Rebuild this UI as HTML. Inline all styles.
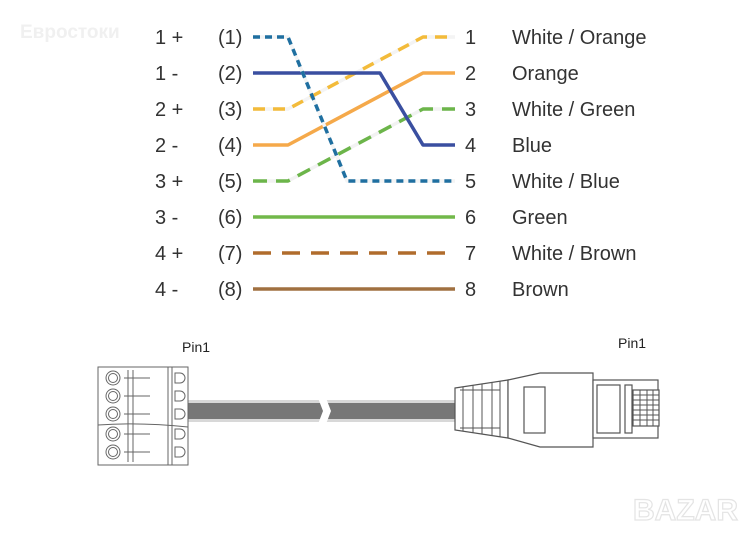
<!DOCTYPE html>
<html><head><meta charset="utf-8"><style>
html,body{margin:0;padding:0;background:#fff;}
svg{display:block}
.t{font-family:"Liberation Sans","DejaVu Sans",sans-serif;font-size:20px;fill:#333}
.p{font-family:"Liberation Sans",sans-serif;font-size:14px;fill:#222}
</style></head><body>
<svg width="743" height="533" viewBox="0 0 743 533" xmlns="http://www.w3.org/2000/svg">
<text x="20" y="38" font-family="Liberation Sans,sans-serif" font-size="19" font-weight="bold" fill="#f0f0f0">Евростоки</text>
<text x="633" y="520" font-family="Liberation Sans,sans-serif" font-size="30" font-weight="bold" fill="#fff" stroke="#e4e4e4" stroke-width="1.2">BAZAR</text>
<g class="t">
<text x="155" y="44">1 +</text><text x="155" y="80">1 -</text><text x="155" y="116">2 +</text><text x="155" y="152">2 -</text>
<text x="155" y="188">3 +</text><text x="155" y="224">3 -</text><text x="155" y="260">4 +</text><text x="155" y="296">4 -</text>
<text x="218" y="44">(1)</text><text x="218" y="80">(2)</text><text x="218" y="116">(3)</text><text x="218" y="152">(4)</text>
<text x="218" y="188">(5)</text><text x="218" y="224">(6)</text><text x="218" y="260">(7)</text><text x="218" y="296">(8)</text>
<text x="465" y="44">1</text><text x="465" y="80">2</text><text x="465" y="116">3</text><text x="465" y="152">4</text>
<text x="465" y="188">5</text><text x="465" y="224">6</text><text x="465" y="260">7</text><text x="465" y="296">8</text>
<text x="512" y="44">White / Orange</text><text x="512" y="80">Orange</text><text x="512" y="116">White / Green</text><text x="512" y="152">Blue</text>
<text x="512" y="188">White / Blue</text><text x="512" y="224">Green</text><text x="512" y="260">White / Brown</text><text x="512" y="296">Brown</text>
</g>
<g fill="none" stroke-width="3.5" stroke-linejoin="round">
<polyline points="253,145 288,145 423,73 455,73" stroke="#f5a94a"/>
<polyline points="253,109 288,109 423,37 455,37" stroke="#f4f4f4"/>
<polyline points="253,109 288,109 423,37 455,37" stroke="#f3bb3a" stroke-dasharray="12,8"/>
<polyline points="253,181 288,181 423,109 455,109" stroke="#f2f2f2"/>
<polyline points="253,181 288,181 423,109 455,109" stroke="#6cb54a" stroke-dasharray="14,9"/>
<polyline points="253,73 380,73 423,145 455,145" stroke="#3a4fa0"/>
<polyline points="253,37 288,37 347,181 455,181" stroke="#f4f4f4"/>
<polyline points="253,37 288,37 347,181 455,181" stroke="#1f6fa0" stroke-dasharray="7,5"/>
<line x1="253" y1="217" x2="455" y2="217" stroke="#72b84a"/>
<line x1="253" y1="253" x2="455" y2="253" stroke="#b06c2c" stroke-dasharray="18,11"/>
<line x1="253" y1="289" x2="455" y2="289" stroke="#a07040"/>
</g>
<text class="p" x="182" y="352">Pin1</text>
<text class="p" x="618" y="348">Pin1</text>
<rect x="188" y="400" width="268" height="22" fill="#d8d8d8"/>
<rect x="188" y="403" width="268" height="16" fill="#777"/>
<polygon points="318,398 326,398 331,411 326,424 318,424 323,411" fill="#fff"/>
<g fill="none" stroke="#666" stroke-width="1">
<rect x="98" y="367" width="90" height="98" fill="#fff"/>
<path d="M98,425 Q140,422 188,427"/>
<line x1="168" y1="367" x2="168" y2="465"/><line x1="172" y1="367" x2="172" y2="465"/>
<line x1="128" y1="370" x2="128" y2="462"/><line x1="133" y1="370" x2="133" y2="462"/>
<g>
<circle cx="113" cy="378" r="7"/><circle cx="113" cy="378" r="4.5"/>
<circle cx="113" cy="396" r="7"/><circle cx="113" cy="396" r="4.5"/>
<circle cx="113" cy="414" r="7"/><circle cx="113" cy="414" r="4.5"/>
<circle cx="113" cy="434" r="7"/><circle cx="113" cy="434" r="4.5"/>
<circle cx="113" cy="452" r="7"/><circle cx="113" cy="452" r="4.5"/>
</g>
<path d="M175,373 h5 a5,5 0 0 1 0,10 h-5 z M175,391 h5 a5,5 0 0 1 0,10 h-5 z M175,409 h5 a5,5 0 0 1 0,10 h-5 z M175,429 h5 a5,5 0 0 1 0,10 h-5 z M175,447 h5 a5,5 0 0 1 0,10 h-5 z"/>
<line x1="124" y1="378" x2="150" y2="378"/><line x1="124" y1="396" x2="150" y2="396"/><line x1="124" y1="414" x2="150" y2="414"/><line x1="124" y1="434" x2="150" y2="434"/><line x1="124" y1="452" x2="150" y2="452"/>
</g>
<g fill="#fff" stroke="#555" stroke-width="1.2">
<polygon points="455,388 508,380 508,438 455,430"/>
<polygon points="508,380 540,373 593,373 593,447 540,447 508,438"/>
<rect x="524" y="387" width="21" height="46"/>
<rect x="593" y="380" width="65" height="58"/>
<rect x="597" y="385" width="23" height="48"/>
<rect x="625" y="385" width="7" height="48"/>
<rect x="633" y="390" width="26" height="36"/>
</g>
<g stroke="#555" stroke-width="1">
<line x1="463" y1="387" x2="463" y2="431"/><line x1="473" y1="385" x2="473" y2="433"/><line x1="482" y1="384" x2="482" y2="434"/><line x1="492" y1="383" x2="492" y2="436"/><line x1="500" y1="381" x2="500" y2="437"/>
<line x1="460" y1="390" x2="500" y2="390"/><line x1="460" y1="428" x2="500" y2="428"/>
<line x1="633" y1="395" x2="659" y2="395"/><line x1="633" y1="400" x2="659" y2="400"/><line x1="633" y1="405" x2="659" y2="405"/><line x1="633" y1="410" x2="659" y2="410"/><line x1="633" y1="415" x2="659" y2="415"/><line x1="633" y1="420" x2="659" y2="420"/>
<line x1="640" y1="390" x2="640" y2="426"/><line x1="647" y1="390" x2="647" y2="426"/><line x1="653" y1="390" x2="653" y2="426"/>
</g>
</svg>
</body></html>
